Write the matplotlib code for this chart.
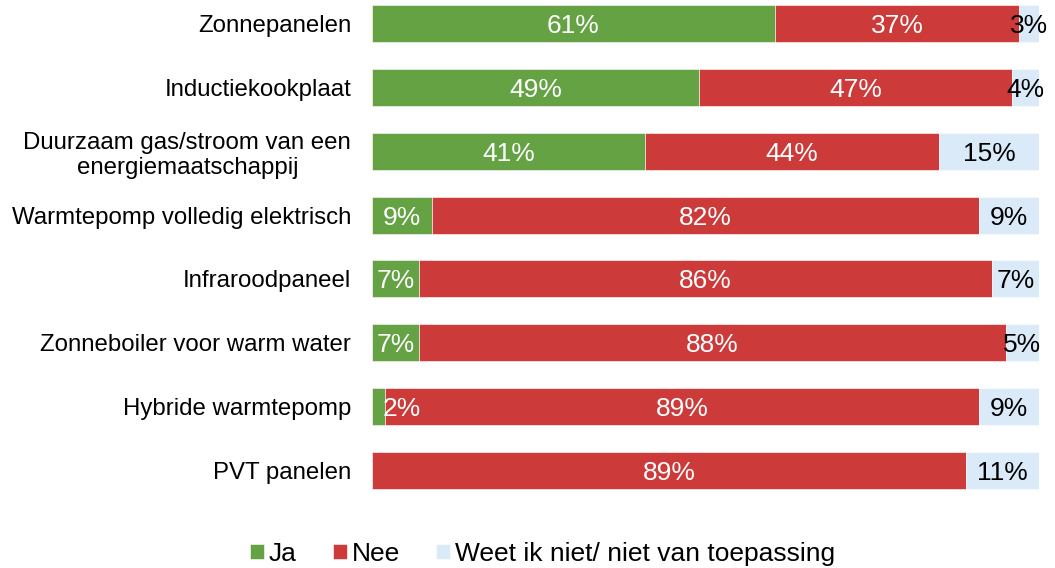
import matplotlib
matplotlib.use("Agg")
import matplotlib.pyplot as plt
import numpy as np

plt.rcParams['font.family'] = ['Liberation Sans', 'DejaVu Sans']

categories = ["Zonnepanelen", "Inductiekookplaat",
              "Duurzaam gas/stroom van een\nenergiemaatschappij",
              "Warmtepomp volledig elektrisch", "Infraroodpaneel",
              "Zonneboiler voor warm water", "Hybride warmtepomp", "PVT panelen"]
ja = [61, 49, 41, 9, 7, 7, 2, 0]
nee = [37, 47, 44, 82, 86, 88, 89, 89]
weet = [3, 4, 15, 9, 7, 5, 9, 11]
series_names = ["Ja", "Nee", "Weet ik niet/ niet van toepassing"]
colors = ["#65A244", "#CC3A3A", "#DAEAF9"]
text_colors = ["white", "white", "black"]

fig = plt.figure(figsize=(10.55, 5.68), dpi=100)
ax = fig.add_axes([372/1055, 1-500/568, (1039-372)/1055, 500/568])

data = np.array([ja, nee, weet], dtype=float)
totals = data.sum(axis=0)
norm = data / totals * 100
y = np.arange(len(categories))
left = np.zeros(len(categories))
for i in range(3):
    ax.barh(y, norm[i], left=left, height=0.58, color=colors[i],
            edgecolor="white", linewidth=0.4, label=series_names[i])
    for j in range(len(categories)):
        v = data[i, j]
        if v > 0:
            if left[j] == 0 and norm[i, j] < 4:
                ax.text(1.6, y[j], f"{int(v)}%", ha="left", va="center_baseline",
                        color=text_colors[i], fontsize=19)
            else:
                ax.text(left[j] + norm[i, j] / 2, y[j], f"{int(v)}%", ha="center",
                        va="center_baseline", color=text_colors[i], fontsize=19)
    left += norm[i]

ax.set_xlim(0, 100)
ax.set_ylim(7.462, -0.368)
ax.set_yticks(y)
ax.set_yticklabels(categories, fontsize=17.3, multialignment="center")
ax.tick_params(axis="y", length=0, pad=15)
ax.set_xticks([])
for s in ax.spines.values():
    s.set_visible(False)

fig.legend(loc="center", bbox_to_anchor=(542.5/1055, 1-554/568), ncol=3,
           frameon=False, fontsize=19, handlelength=0.53, handleheight=0.53,
           handletextpad=0.2, columnspacing=1.36, borderpad=0)

fig.savefig("out.png", dpi=100)
